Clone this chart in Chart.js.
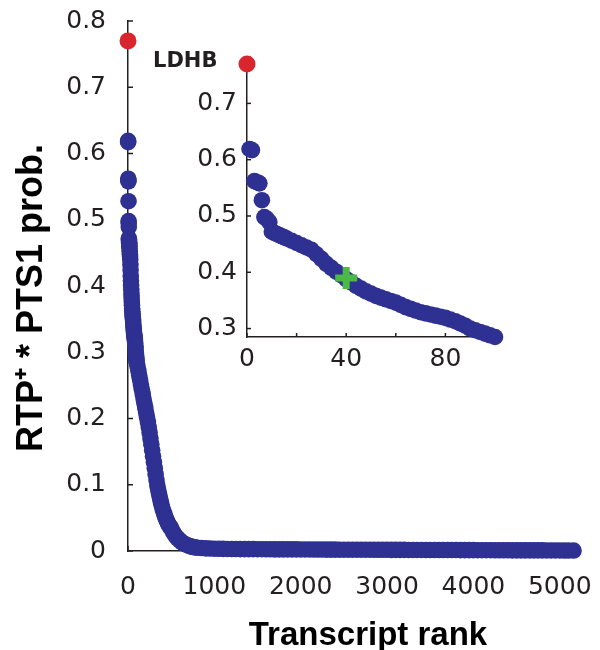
<!DOCTYPE html>
<html>
<head>
<meta charset="utf-8">
<script src="https://cdn.jsdelivr.net/npm/chart.js@4.4.1/dist/chart.umd.min.js"></script>
<style>
  body { margin: 0; background: #fff; }
  #wrap { position: relative; width: 600px; height: 650px; }
  #wrap canvas { position: absolute; left: 0; top: 0; }
</style>
</head>
<body>
<div id="wrap">
  <canvas id="main" width="600" height="650"></canvas>
  <canvas id="inset" width="600" height="650"></canvas>
</div>
<script>
// top 100 transcripts (rank 0 = LDHB, drawn separately)
const ldhbRank = 0;
const ldhbProb = 0.77;
const crossRank = 40;
const crossProb = 0.39;

const topRank = [1, 2, 3, 4, 5, 6, 7, 8, 9, 10, 11, 12, 13, 14, 15, 16, 18, 20, 22, 24,
  26, 28, 30, 32, 34, 36, 38, 40, 42, 44, 46, 48, 50, 52, 54, 56, 58, 60, 62, 64,
  66, 68, 70, 72, 74, 76, 78, 80, 82, 84, 86, 88, 90, 92, 94, 96, 98, 100];
const topProb = [0.619, 0.617, 0.562, 0.560, 0.558, 0.528, 0.498, 0.495, 0.489, 0.472,
  0.470, 0.468, 0.466, 0.464, 0.462, 0.460, 0.456, 0.452, 0.448, 0.444,
  0.440, 0.432, 0.424, 0.415, 0.408, 0.401, 0.395, 0.388, 0.382, 0.376,
  0.371, 0.366, 0.362, 0.358, 0.355, 0.352, 0.349, 0.346, 0.342, 0.338,
  0.335, 0.332, 0.329, 0.327, 0.325, 0.323, 0.321, 0.319, 0.316, 0.313,
  0.309, 0.305, 0.300, 0.297, 0.294, 0.291, 0.288, 0.285];

// rest of the ranking, only in the main plot
const tailRank = [110, 120, 130, 140, 150, 160, 170, 180, 190, 200, 210, 220, 230, 240,
  250, 260, 270, 280, 290, 300, 310, 320, 330, 340, 350, 360, 370, 380, 390, 400,
  410, 420, 430, 440, 450, 460, 470, 480, 490, 500, 525, 550, 575, 600, 625, 650,
  675, 700, 725, 750, 775, 800, 850, 900, 950, 1000, 1050, 1100, 1150, 1200, 1250,
  1300, 1350, 1400, 1450, 1500, 1550, 1600, 1650, 1700, 1750, 1800, 1850, 1900,
  1950, 2000, 2050, 2100, 2150, 2200, 2250, 2300, 2350, 2400, 2450, 2500, 2550,
  2600, 2650, 2700, 2750, 2800, 2850, 2900, 2950, 3000, 3050, 3100, 3150, 3200,
  3250, 3300, 3350, 3400, 3450, 3500, 3550, 3600, 3650, 3700, 3750, 3800, 3850,
  3900, 3950, 4000, 4050, 4100, 4150, 4200, 4250, 4300, 4350, 4400, 4450, 4500,
  4550, 4600, 4650, 4700, 4750, 4800, 4850, 4900, 4950, 5000, 5050, 5100, 5160];
const tailProb = [0.279, 0.272, 0.265, 0.258, 0.251, 0.244, 0.237, 0.230, 0.223, 0.216,
  0.209, 0.202, 0.195, 0.187, 0.179, 0.170, 0.161, 0.152, 0.143, 0.134, 0.125,
  0.116, 0.107, 0.099, 0.092, 0.086, 0.080, 0.074, 0.069, 0.064, 0.060, 0.056,
  0.052, 0.049, 0.046, 0.043, 0.040, 0.038, 0.036, 0.034, 0.028, 0.023, 0.019,
  0.016, 0.013, 0.011, 0.0095, 0.008, 0.007, 0.006, 0.0055, 0.005, 0.0045, 0.004,
  0.0037, 0.0035, 0.0033, 0.0032, 0.0031, 0.0030, 0.0030, 0.0029, 0.0029, 0.0028,
  0.0028, 0.0027, 0.0027, 0.0026, 0.0026, 0.0025, 0.0025, 0.0025, 0.0024, 0.0024,
  0.0024, 0.0023, 0.0023, 0.0023, 0.0022, 0.0022, 0.0022, 0.0021, 0.0021, 0.0021,
  0.0020, 0.0020, 0.0020, 0.0020, 0.0019, 0.0019, 0.0019, 0.0019, 0.0018, 0.0018,
  0.0018, 0.0018, 0.0017, 0.0017, 0.0017, 0.0017, 0.0016, 0.0016, 0.0016, 0.0016,
  0.0015, 0.0015, 0.0015, 0.0015, 0.0014, 0.0014, 0.0014, 0.0014, 0.0013, 0.0013,
  0.0013, 0.0013, 0.0012, 0.0012, 0.0012, 0.0012, 0.0011, 0.0011, 0.0011, 0.0011,
  0.0010, 0.0010, 0.0010, 0.0010, 0.0009, 0.0009, 0.0009, 0.0009, 0.0008, 0.0008,
  0.0008, 0.0008, 0.0007, 0.0007, 0.0007];

const mainXTicks = [0, 1000, 2000, 3000, 4000, 5000];
const mainYTicks = [0, 0.1, 0.2, 0.3, 0.4, 0.5, 0.6, 0.7, 0.8];
const insetXTicks = [0, 40, 80];
const insetXMarks = [0, 20, 40, 60, 80, 100];
const insetYTicks = [0.3, 0.4, 0.5, 0.6, 0.7];

const blue = '#2e3192';
const red = '#d9252e';
const green = '#4cb848';
const axisColor = '#231f20';
const tickFamily = '"DejaVu Sans", Verdana, sans-serif';
const titleFamily = '"Liberation Sans", Arial, Helvetica, sans-serif';

Chart.defaults.font.family = tickFamily;
Chart.defaults.color = axisColor;

const pts = (xs, ys) => xs.map((x, i) => ({ x: x, y: ys[i] }));
const fmt = v => (v === 0 ? '0' : (Number.isInteger(v) ? String(v) : v.toFixed(1)));

// fixed box size, and no extra room for overhanging tick labels
function fixBox(w, h) {
  return s => {
    if (w !== null) s.width = w;
    if (h !== null) s.height = h;
    s.paddingTop = 0;
    s.paddingBottom = 0;
    s.paddingLeft = 0;
    s.paddingRight = 0;
  };
}

// MATLAB style ticks pointing into the plot
const innerTicks = {
  id: 'innerTicks',
  beforeDatasetsDraw(chart, args, opts) {
    const { ctx, chartArea, scales } = chart;
    ctx.save();
    ctx.strokeStyle = axisColor;
    ctx.lineWidth = 1.5;
    opts.x.forEach(v => {
      const px = scales.x.getPixelForValue(v);
      ctx.beginPath();
      ctx.moveTo(px, chartArea.bottom);
      ctx.lineTo(px, chartArea.bottom - opts.len);
      ctx.stroke();
    });
    opts.y.forEach(v => {
      const py = scales.y.getPixelForValue(v);
      ctx.beginPath();
      ctx.moveTo(chartArea.left, py);
      ctx.lineTo(chartArea.left + opts.len, py);
      ctx.stroke();
    });
    ctx.restore();
  }
};

// axis titles placed where the figure has them
const axisTitles = {
  id: 'axisTitles',
  afterDraw(chart) {
    const ctx = chart.ctx;
    ctx.save();
    ctx.fillStyle = '#000';
    ctx.font = 'bold 33px ' + titleFamily;
    ctx.textAlign = 'center';
    ctx.textBaseline = 'alphabetic';
    ctx.fillText('Transcript rank', 368, 645);
    ctx.translate(42, 298);
    ctx.rotate(-Math.PI / 2);
    ctx.font = 'bold 36px ' + titleFamily;
    ctx.fillText('RTP\u207A * PTS1 prob.', 0, 0);
    ctx.restore();
  }
};

const geneLabel = {
  id: 'geneLabel',
  afterDraw(chart) {
    const ctx = chart.ctx;
    ctx.save();
    ctx.fillStyle = axisColor;
    ctx.font = 'bold 21px ' + tickFamily;
    ctx.textAlign = 'left';
    ctx.textBaseline = 'alphabetic';
    ctx.fillText('LDHB', 153, 67);
    ctx.restore();
  }
};

new Chart(document.getElementById('main'), {
  type: 'scatter',
  data: {
    datasets: [
      {
        data: pts(topRank, topProb).concat(pts(tailRank, tailProb)),
        backgroundColor: blue,
        borderWidth: 0,
        pointRadius: 8.3,
        clip: false,
        order: 2
      },
      {
        data: [{ x: ldhbRank, y: ldhbProb }],
        backgroundColor: red,
        borderWidth: 0,
        pointRadius: 8.5,
        clip: false,
        order: 1
      }
    ]
  },
  options: {
    responsive: false,
    animation: false,
    devicePixelRatio: 1,
    layout: { padding: { left: 0, top: 21, right: 23, bottom: 0 } },
    plugins: {
      legend: { display: false },
      tooltip: { enabled: false },
      innerTicks: { x: mainXTicks, y: mainYTicks, len: 5 }
    },
    scales: {
      x: {
        type: 'linear',
        min: 0,
        max: 5200,
        afterBuildTicks: s => { s.ticks = mainXTicks.map(v => ({ value: v })); },
        afterFit: fixBox(null, 99),
        grid: { display: false, drawTicks: false },
        border: { color: axisColor, width: 1.5 },
        ticks: { font: { size: 25 }, color: axisColor, padding: 21, maxRotation: 0, autoSkip: false, callback: fmt }
      },
      y: {
        type: 'linear',
        min: 0,
        max: 0.8,
        afterBuildTicks: s => { s.ticks = mainYTicks.map(v => ({ value: v })); },
        afterFit: fixBox(128, null),
        grid: { display: false, drawTicks: false },
        border: { color: axisColor, width: 1.5 },
        ticks: { font: { size: 25 }, color: axisColor, padding: 22, autoSkip: false, callback: fmt }
      }
    }
  },
  plugins: [innerTicks, axisTitles]
});

new Chart(document.getElementById('inset'), {
  type: 'scatter',
  data: {
    datasets: [
      {
        data: pts(topRank, topProb),
        backgroundColor: blue,
        borderWidth: 0,
        pointRadius: 8.3,
        clip: false,
        order: 3
      },
      {
        data: [{ x: ldhbRank, y: ldhbProb }],
        backgroundColor: red,
        borderWidth: 0,
        pointRadius: 8.5,
        clip: false,
        order: 2
      },
      {
        data: [{ x: crossRank, y: crossProb }],
        pointStyle: 'cross',
        borderColor: green,
        backgroundColor: green,
        borderWidth: 7,
        pointRadius: 11,
        clip: false,
        order: 1
      }
    ]
  },
  options: {
    responsive: false,
    animation: false,
    devicePixelRatio: 1,
    layout: { padding: { left: 0, top: 64, right: 105, bottom: 0 } },
    plugins: {
      legend: { display: false },
      tooltip: { enabled: false },
      innerTicks: { x: insetXMarks, y: insetYTicks, len: 4 }
    },
    scales: {
      x: {
        type: 'linear',
        min: 0,
        max: 100,
        afterBuildTicks: s => { s.ticks = insetXTicks.map(v => ({ value: v })); },
        afterFit: fixBox(null, 313),
        grid: { display: false, drawTicks: false },
        border: { color: axisColor, width: 1.5 },
        ticks: { font: { size: 25 }, color: axisColor, padding: 7, maxRotation: 0, autoSkip: false, callback: fmt }
      },
      y: {
        type: 'linear',
        min: 0.285,
        max: ldhbProb,
        afterBuildTicks: s => { s.ticks = insetYTicks.map(v => ({ value: v })); },
        afterFit: fixBox(247, null),
        grid: { display: false, drawTicks: false },
        border: { color: axisColor, width: 1.5 },
        ticks: { font: { size: 25 }, color: axisColor, padding: 10, autoSkip: false, callback: fmt }
      }
    }
  },
  plugins: [innerTicks, geneLabel]
});
</script>
</body>
</html>
